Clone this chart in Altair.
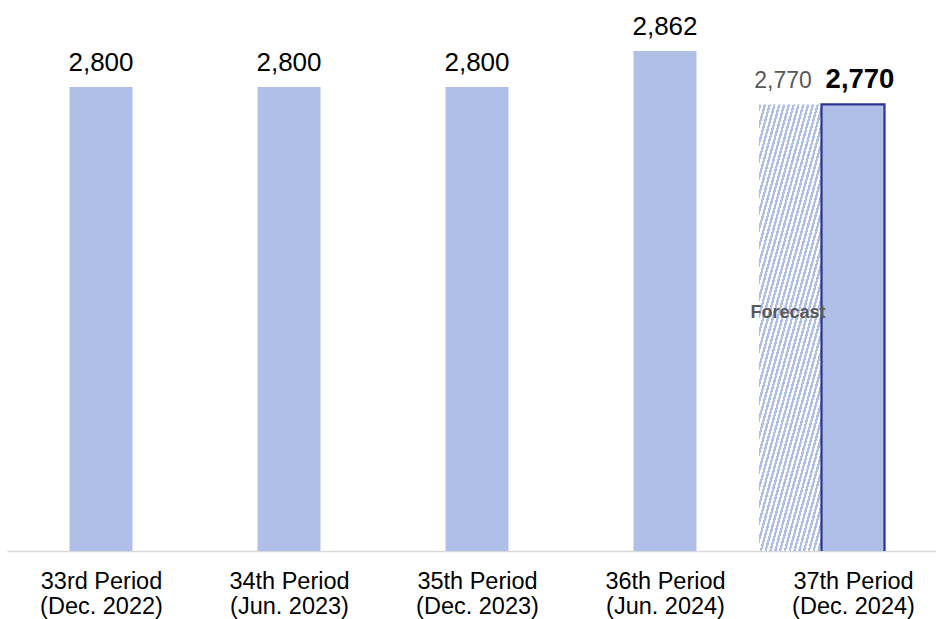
import math
import altair as alt
import pandas as pd

# ---------------- data ----------------
periods = ["33rd Period", "34th Period", "35th Period", "36th Period", "37th Period"]
dates = ["(Dec. 2022)", "(Jun. 2023)", "(Dec. 2023)", "(Jun. 2024)", "(Dec. 2024)"]
actual = [2800, 2800, 2800, 2862, 2770]
forecast_period = "37th Period"
forecast_value = 2770

# ---------------- styles ----------------
FONT = "Liberation Sans"
BLUE = "#AFBFE7"
NAVY = "#2B3590"
GREY_TXT = "#595959"
Y_MIN, Y_MAX = 2000, 2950
PLOT_W, PLOT_H = 929, 551
BAR_W = 63

df = pd.DataFrame({"idx": list(range(len(periods))), "period": periods, "date": dates, "value": actual})
df["label"] = df["value"].map(lambda v: f"{v:,}")
last_i = periods.index(forecast_period)
df_hist = df[df["idx"] != last_i]
df_last = df[df["idx"] == last_i]
fc = pd.DataFrame({"idx": [last_i], "value": [forecast_value]})
fc["label"] = fc["value"].map(lambda v: f"{v:,}")

# hatch fill built from a striped linear gradient (bbox units)
w = BAR_W - 1
h = (forecast_value - Y_MIN) * PLOT_H / (Y_MAX - Y_MIN)
s = (w + h) / (w * w + h * h)
n = int(round((w + h) / math.sqrt(2) / 3.4))
stops = []
for k in range(n):
    a = k / n
    b = (k + 0.5) / n
    c = (k + 1) / n
    stops += [alt.GradientStop(offset=a, color=BLUE), alt.GradientStop(offset=b, color=BLUE),
              alt.GradientStop(offset=b, color="white"), alt.GradientStop(offset=c, color="white")]
hatch = alt.LinearGradient(gradient="linear", stops=stops, x1=0, y1=0, x2=w * s, y2=h * s)

label_expr = "[" + ",".join(f"['{p}','{d}']" for p, d in zip(periods, dates)) + "][datum.value]"

x_enc = alt.X("idx:Q", scale=alt.Scale(domain=[-0.5, (PLOT_W / 188.0) - 0.5], nice=False, zero=False, padding=0),
              axis=alt.Axis(values=list(range(len(periods))), labelExpr=label_expr, title=None,
                            ticks=False, grid=False, domainColor="#D9D9D9", domainWidth=1.5,
                            labelFont=FONT, labelFontSize=23.5, labelColor="black",
                            labelLineHeight=25, labelPadding=18))
y_scale = alt.Scale(domain=[Y_MIN, Y_MAX], nice=False, zero=False, padding=0)
y_enc = alt.Y("value:Q", scale=y_scale, axis=None)

bars = alt.Chart(df_hist).mark_bar(size=BAR_W, color=BLUE, clip=True).encode(x=x_enc, y=y_enc)
last_bar = alt.Chart(df_last).mark_bar(size=BAR_W, fill=BLUE, stroke=NAVY, strokeWidth=2.2, clip=True).encode(
    x=x_enc, y=y_enc)
fc_bar = alt.Chart(fc).mark_bar(size=w, xOffset=-w - 1, fill=hatch, clip=True).encode(x=x_enc, y=y_enc)

labels = alt.Chart(df_hist).mark_text(font=FONT, fontSize=26, baseline="alphabetic", dy=-16, color="black").encode(
    x=x_enc, y=y_enc, text="label:N")
last_label = alt.Chart(df_last).mark_text(font=FONT, fontSize=27.5, fontWeight="bold", baseline="alphabetic",
                                          dy=-16, dx=7, color="black").encode(x=x_enc, y=y_enc, text="label:N")
fc_label = alt.Chart(fc).mark_text(font=FONT, fontSize=23, baseline="alphabetic", dy=-16, dx=-70,
                                   color=GREY_TXT).encode(x=x_enc, y=y_enc, text="label:N")
fc_tag = alt.Chart(fc).mark_text(font=FONT, fontSize=18, fontWeight="bold", baseline="middle", dx=-65,
                                 color=GREY_TXT).encode(x=x_enc, y=alt.value(313), text=alt.value("Forecast"))

chart = alt.layer(fc_bar, bars, last_bar, labels, last_label, fc_label, fc_tag).properties(
    width=PLOT_W, height=PLOT_H,
    autosize=alt.AutoSizeParams(type="none"),
    padding={"left": 7, "top": 0, "right": 0, "bottom": 68},
    background="white",
).configure_view(strokeWidth=0, strokeOpacity=0)

chart.save("out.html", embed_options={"renderer": "svg", "actions": False})
